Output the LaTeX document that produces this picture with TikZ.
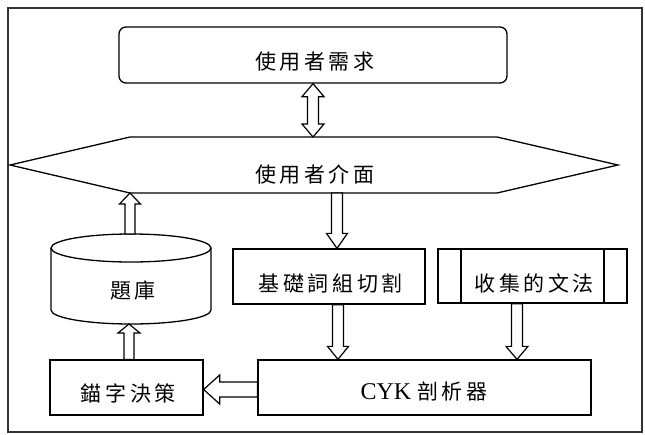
\documentclass[tikz,border=0pt]{standalone}
\usepackage{fontspec}
\setmainfont{Liberation Serif}
\newfontfamily\cjk[LetterSpace=17]{Noto Sans CJK TC}
\usetikzlibrary{calc}

\newcommand\arrowdown[5]{\draw[barrow] let \p1=#1, \p2=#2 in
  (\x1-#3,\y1) -- (\x1-#3,\y2+#5) -- (\x1-#4,\y2+#5) -- (\x1,\y2) -- (\x1+#4,\y2+#5) -- (\x1+#3,\y2+#5) -- (\x1+#3,\y1) -- cycle;}
\newcommand\arrowup[5]{\draw[barrow] let \p1=#1, \p2=#2 in
  (\x1-#3,\y1) -- (\x1-#3,\y2-#5) -- (\x1-#4,\y2-#5) -- (\x1,\y2) -- (\x1+#4,\y2-#5) -- (\x1+#3,\y2-#5) -- (\x1+#3,\y1) -- cycle;}
\newcommand\arrowleft[5]{\draw[barrow] let \p1=#1, \p2=#2 in
  (\x1,\y1-#3) -- (\x2+#5,\y1-#3) -- (\x2+#5,\y1-#4) -- (\x2,\y1) -- (\x2+#5,\y1+#4) -- (\x2+#5,\y1+#3) -- (\x1,\y1+#3) -- cycle;}
\newcommand\arrowboth[5]{\draw[barrow] let \p1=#1, \p2=#2 in
  (\x1,\y1) -- (\x1-#4,\y1-#5) -- (\x1-#3,\y1-#5) -- (\x1-#3,\y2+#5) -- (\x1-#4,\y2+#5) -- (\x1,\y2)
  -- (\x1+#4,\y2+#5) -- (\x1+#3,\y2+#5) -- (\x1+#3,\y1-#5) -- (\x1+#4,\y1-#5) -- cycle;}

\tikzset{
  box/.style={draw, line width=1.3pt, inner sep=0pt},
  lbl/.style={font=\fontsize{21}{25}\selectfont\cjk, inner sep=0pt, xshift=1.8pt},
  barrow/.style={draw, line width=1.2pt, line join=miter, fill=white},
  shapeline/.style={draw, line width=1.3pt, line join=miter},
  frame/.style={draw=black!80, line width=1.3pt},
}

\begin{document}
\begin{tikzpicture}[x=1pt,y=-1pt]
\useasboundingbox (0,0) rectangle (645,434);
\draw[frame] (8,8) rectangle (642,432);

% user needs
\node[box, rounded corners=7pt, minimum width=388pt, minimum height=56pt] (need) at (313,55) {};
\node[lbl] (needT) at (313,62) {使用者需求};

% user interface hexagon
\coordinate (hexL) at (10,165);
\coordinate (hexTL) at (130,137);
\coordinate (hexTR) at (497,137);
\coordinate (hexR) at (618,165);
\coordinate (hexBR) at (497,193);
\coordinate (hexBL) at (130,193);
\draw[shapeline] (hexL) -- (hexTL) -- (hexTR) -- (hexR) -- (hexBR) -- (hexBL) -- cycle;
\node[lbl] (uiT) at (313,174) {使用者介面};

% question bank cylinder
\coordinate (dbTop) at (131,234);
\coordinate (dbBot) at (131,324);
\draw[shapeline] (131,248) ellipse [x radius=80pt, y radius=14pt];
\draw[shapeline] (51,248) -- (51,310) arc[start angle=180, end angle=360, x radius=80pt, y radius=14pt] -- (211,248);
\node[lbl] (dbT) at (131,291) {題庫};

% segmentation box
\node[box, minimum width=192pt, minimum height=55pt] (seg) at (329,276.5) {};
\node[lbl] (segT) at (329,283) {基礎詞組切割};

% grammar box
\node[box, minimum width=189pt, minimum height=54pt] (gram) at (532.5,276) {};
\draw[line width=1.3pt] (461,249) -- (461,303) (604,249) -- (604,303);
\node[lbl] (gramT) at (532.5,283) {收集的文法};

% CYK parser
\node[box, minimum width=333pt, minimum height=55pt] (cyk) at (424.5,387.5) {};
\node[inner sep=0pt] (cykT) at (424,391) {\fontsize{24}{28}\selectfont CYK {\fontsize{21}{25}\selectfont\cjk 剖析器}};

% anchor decision
\node[box, minimum width=153pt, minimum height=55pt] (anc) at (126.5,387.5) {};
\node[lbl] (ancT) at (126.5,393) {錨字決策};

% arrows
\arrowboth{(need.south)}{(need.south |- hexTL)}{5.5pt}{11pt}{13pt}
\arrowup{(hexBL |- dbTop)}{(hexBL)}{5pt}{10.5pt}{11pt}
\arrowdown{([xshift=8pt]seg.north |- hexBL)}{([xshift=8pt]seg.north)}{5.5pt}{10.5pt}{15pt}
\arrowdown{([xshift=9pt]seg.south)}{([xshift=9pt]seg.south |- cyk.north)}{5.5pt}{10.5pt}{13pt}
\arrowdown{([xshift=-15.5pt]gram.south)}{([xshift=-15.5pt]gram.south |- cyk.north)}{5.5pt}{11pt}{13pt}
\arrowup{([xshift=2.5pt]anc.north)}{([xshift=2.5pt]anc.north |- dbBot)}{5pt}{11pt}{9pt}
\arrowleft{([yshift=-2pt]cyk.west)}{([yshift=-2pt]cyk.west -| anc.east)}{7.5pt}{14.5pt}{16pt}
\end{tikzpicture}
\end{document}
